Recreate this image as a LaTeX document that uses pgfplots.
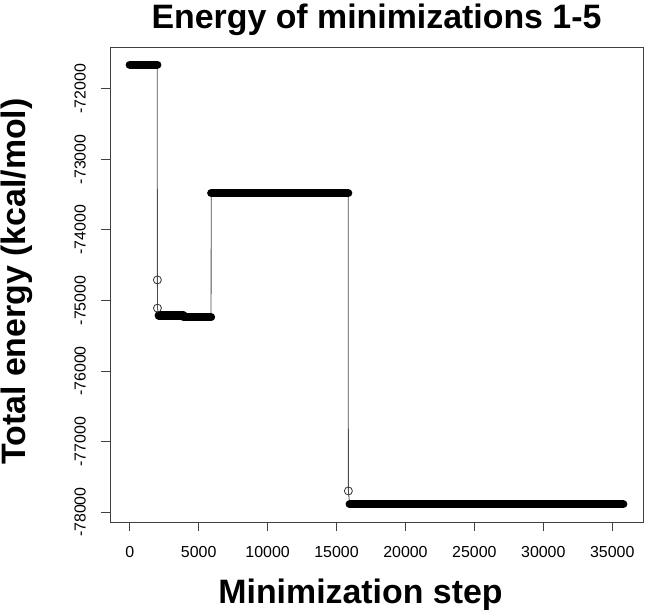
\documentclass[border=0pt]{standalone}
\usepackage{fontspec}
\setmainfont{Liberation Sans}
\usepackage{pgfplots}
\pgfplotsset{compat=1.18}

% energy plateaus of the five minimizations (step, kcal/mol)
\pgfplotstableread{
x y
0 -71660
2000 -71660
2005 -74710
2010 -75110
2100 -75215
3900 -75215
3900 -75240
5900 -75240
5910 -73480
15850 -73480
15860 -77700
15950 -77890
35800 -77890
}\energy

\begin{document}
\begin{tikzpicture}
\useasboundingbox (-110bp,-89bp) rectangle (537bp,522bp);
\begin{axis}[
    at={(0,0)}, anchor=south west,
    scale only axis, width=533bp, height=475bp,
    xmin=-1432, xmax=37232,
    ymin=-78140, ymax=-71410,
    xtick={0,5000,...,35000},
    ytick={-78000,-77000,...,-72000},
    scaled ticks=false,
    /pgf/number format/1000 sep={},
    /pgf/number format/assume math mode=true,
    tick pos=left,
    tick align=outside,
    major tick length=9bp,
    axis line style={black!75, line width=0.8bp},
    tick style={black!75, line width=0.8bp},
    tick label style={font=\fontsize{16}{19}\selectfont, inner sep=0pt},
    xticklabel shift=15bp,
    yticklabel shift=15bp,
    yticklabel style={rotate=90, anchor=south},
    title={Energy of minimizations 1-5},
    title style={at={(axis description cs:0.5,1)}, anchor=base, yshift=13bp,
      font=\bfseries\fontsize{34}{40}\selectfont},
    xlabel={Minimization step},
    xlabel style={at={(axis description cs:0.5,0)}, anchor=base, yshift=-81bp, xshift=-16bp,
      font=\bfseries\fontsize{34}{40}\selectfont},
    ylabel={Total energy (kcal/mol)},
    ylabel style={at={(axis description cs:0,0.5)}, anchor=base, yshift=84bp, xshift=3bp,
      font=\bfseries\fontsize{34}{40}\selectfont},
]
  % thin connecting line
  \addplot[black!70, line width=0.8bp, no markers] table {\energy};

  % dense runs of points, drawn as thick bars
  \addplot[black, line width=8.2bp, line cap=round] coordinates {(0,-71660) (2000,-71660)};
  \addplot[black, line width=8.2bp, line cap=round] coordinates {(2100,-75215) (3900,-75215)};
  \addplot[black, line width=8.2bp, line cap=round] coordinates {(3900,-75240) (5900,-75240)};
  \addplot[black, line width=8.2bp, line cap=round] coordinates {(5910,-73480) (15850,-73480)};
  \addplot[black, line width=8.2bp, line cap=round] coordinates {(15950,-77890) (35800,-77890)};

  % isolated points
  \addplot[only marks, mark=o, mark size=4bp, black!80, line width=0.8bp]
    coordinates {(2005,-74710) (2010,-75110) (15860,-77700)};
\end{axis}
\end{tikzpicture}
\end{document}
